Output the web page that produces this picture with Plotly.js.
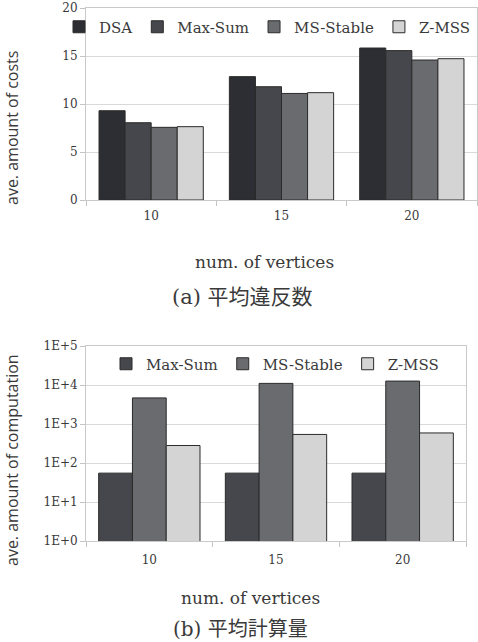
<!DOCTYPE html>
<html>
<head>
<meta charset="utf-8">
<script src="https://cdn.plot.ly/plotly-3.0.1.min.js"></script>
<style>
  html, body { margin: 0; padding: 0; background: #ffffff; }
  #chart { width: 478px; height: 642px; }
</style>
</head>
<body>
<div id="chart"></div>
<script>
// Number of vertices (shared categories of both panels)
const vertices = ['10', '15', '20'];

// (a) average amount of costs
const costDSA      = [9.3, 12.85, 15.83];
const costMaxSum   = [8.05, 11.8, 15.56];
const costMSStable = [7.57, 11.1, 14.58];
const costZMSS     = [7.64, 11.18, 14.72];

// (b) average amount of computation (log scale)
const compMaxSum   = [55, 55, 55];
const compMSStable = [4670, 11000, 12600];
const compZMSS     = [281, 540, 590];
const compTickVals = [1, 10, 100, 1000, 10000, 100000];
const compTickText = ['1E+0', '1E+1', '1E+2', '1E+3', '1E+4', '1E+5'];

const W = 478, H = 642;
const px = v => v / W;          // horizontal pixel -> paper fraction
const py = v => 1 - v / H;      // vertical pixel (from top) -> paper fraction

const serif = 'DejaVu Serif, Liberation Serif, serif';
const sans = 'Open Sans, Noto Sans, sans-serif';
const cjk = 'DejaVu Serif, Noto Sans CJK JP, serif';
const textColor = '#3a3a3a';
const gridColor = '#d9d9d9';
const edge = '#2b2b2b';

const colors = {
  dsa: '#2d2e33',
  maxsum: '#46474c',
  msstable: '#6a6b6f',
  zmss: '#d4d4d4'
};

function bar(name, x, y, color, xa, ya, legend) {
  return {
    type: 'bar', name: name, x: x, y: y,
    xaxis: xa, yaxis: ya, legend: legend,
    marker: { color: color, line: { color: edge, width: 1 } },
    hoverinfo: 'x+y+name'
  };
}

const data = [
  bar('DSA',       vertices, costDSA,      colors.dsa,      'x',  'y',  'legend'),
  bar('Max-Sum',   vertices, costMaxSum,   colors.maxsum,   'x',  'y',  'legend'),
  bar('MS-Stable', vertices, costMSStable, colors.msstable, 'x',  'y',  'legend'),
  bar('Z-MSS',     vertices, costZMSS,     colors.zmss,     'x',  'y',  'legend'),
  bar('Max-Sum',   vertices, compMaxSum,   colors.maxsum,   'x2', 'y2', 'legend2'),
  bar('MS-Stable', vertices, compMSStable, colors.msstable, 'x2', 'y2', 'legend2'),
  bar('Z-MSS',     vertices, compZMSS,     colors.zmss,     'x2', 'y2', 'legend2')
];

const tickFont = { family: serif, size: 12, color: textColor };

function xAxis(domain, anchor, standoff) {
  return {
    domain: domain, anchor: anchor, type: 'category',
    tickson: 'boundaries', ticks: 'outside', ticklen: 5, tickcolor: '#c4c4c4',
    showline: true, linecolor: '#c9c9c9', linewidth: 1, mirror: true,
    showgrid: false, tickfont: tickFont, ticklabelstandoff: standoff,
    fixedrange: true
  };
}

const legendFont = { family: serif, size: 15, color: textColor };

function label(text, x, y, font, angle) {
  return {
    text: text, x: px(x), y: py(y), xref: 'paper', yref: 'paper',
    xanchor: 'center', yanchor: 'middle', textangle: angle || 0,
    showarrow: false, font: font
  };
}

const layout = {
  width: W, height: H,
  margin: { l: 0, r: 0, t: 0, b: 0 },
  paper_bgcolor: '#ffffff', plot_bgcolor: '#ffffff',
  barmode: 'group',
  bargap: 0.2,
  showlegend: true,
  xaxis: xAxis([px(86), px(477)], 'y', 5),
  yaxis: {
    domain: [py(200), py(8)], anchor: 'x', range: [0, 20], dtick: 5,
    ticks: 'outside', ticklen: 5, tickcolor: '#c4c4c4',
    showline: true, linecolor: '#c9c9c9', mirror: true,
    gridcolor: gridColor, zeroline: false, tickfont: tickFont, fixedrange: true
  },
  xaxis2: xAxis([px(86), px(466)], 'y2', 8),
  yaxis2: {
    domain: [py(541), py(346)], anchor: 'x2', type: 'log', range: [0, 5],
    tickvals: compTickVals, ticktext: compTickText,
    ticks: 'outside', ticklen: 5, tickcolor: '#c4c4c4',
    showline: true, linecolor: '#c9c9c9', mirror: true,
    gridcolor: gridColor, zeroline: false, tickfont: tickFont, fixedrange: true
  },
  legend: {
    orientation: 'h', x: px(476), xanchor: 'right', y: py(27), yanchor: 'middle',
    bgcolor: 'rgba(0,0,0,0)', font: legendFont, traceorder: 'normal'
  },
  legend2: {
    orientation: 'h', x: px(106), xanchor: 'left', y: py(364), yanchor: 'middle',
    bgcolor: 'rgba(0,0,0,0)', font: legendFont, traceorder: 'normal'
  },
  annotations: [
    label('ave. amount of costs', 12, 128, { family: sans, size: 16, color: textColor }, -90),
    label('num. of vertices', 264, 262, { family: serif, size: 17, color: textColor }),
    label('(a) 平均違反数', 242, 297, { family: cjk, size: 21, color: textColor }),
    label('ave. amount of computation', 12, 460, { family: sans, size: 16, color: textColor }, -90),
    label('num. of vertices', 250, 598, { family: serif, size: 17, color: textColor }),
    label('(b) 平均計算量', 240, 629, { family: cjk, size: 20, color: textColor })
  ]
};

Plotly.newPlot('chart', data, layout, { staticPlot: true, displayModeBar: false });
</script>
</body>
</html>
